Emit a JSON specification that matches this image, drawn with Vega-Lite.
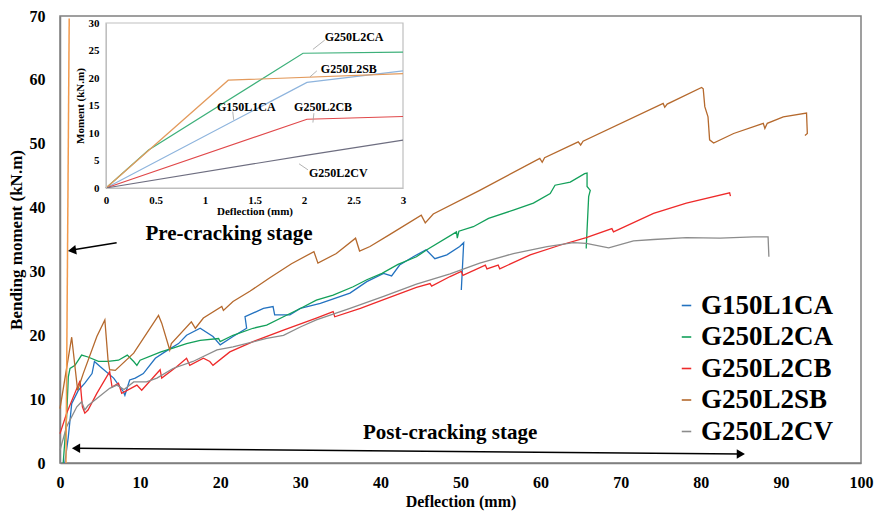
{
  "$schema": "https://vega.github.io/schema/vega-lite/v6.json",
  "width": 801,
  "height": 447,
  "autosize": {"type": "none"},
  "padding": {"left": 60, "top": 16, "right": 14, "bottom": 52},
  "background": "white",
  "config": {
    "font": "Liberation Serif",
    "view": {"stroke": "#808080", "strokeWidth": 1.5},
    "axis": {"grid": false, "labelColor": "#000000", "titleColor": "#000000", "labelFontWeight": "bold", "titleFontWeight": "bold", "labelFont": "Liberation Serif", "titleFont": "Liberation Serif"},
    "legend": {"labelFont": "Liberation Serif", "labelFontWeight": "bold", "labelColor": "#000000"}
  },
  "datasets": {
    "main": [
      {"s": "G150L1CA", "x": 0.6, "y": 0},
      {"s": "G150L1CA", "x": 1.04, "y": 4.1},
      {"s": "G150L1CA", "x": 1.46, "y": 9.3},
      {"s": "G150L1CA", "x": 2.3, "y": 11.4},
      {"s": "G150L1CA", "x": 3.1, "y": 12.5},
      {"s": "G150L1CA", "x": 4.0, "y": 14.0},
      {"s": "G150L1CA", "x": 4.3, "y": 15.9},
      {"s": "G150L1CA", "x": 5.0, "y": 15.1},
      {"s": "G150L1CA", "x": 6.7, "y": 13.3},
      {"s": "G150L1CA", "x": 7.9, "y": 11.2},
      {"s": "G150L1CA", "x": 8.1, "y": 10.6},
      {"s": "G150L1CA", "x": 8.7, "y": 13.0},
      {"s": "G150L1CA", "x": 9.4, "y": 13.3},
      {"s": "G150L1CA", "x": 10.4, "y": 14.0},
      {"s": "G150L1CA", "x": 11.9, "y": 16.4},
      {"s": "G150L1CA", "x": 13.1, "y": 17.4},
      {"s": "G150L1CA", "x": 14.8, "y": 18.7},
      {"s": "G150L1CA", "x": 15.8, "y": 20.0},
      {"s": "G150L1CA", "x": 17.5, "y": 21.1},
      {"s": "G150L1CA", "x": 19.1, "y": 19.8},
      {"s": "G150L1CA", "x": 20.0, "y": 18.5},
      {"s": "G150L1CA", "x": 21.6, "y": 19.8},
      {"s": "G150L1CA", "x": 23.3, "y": 21.1},
      {"s": "G150L1CA", "x": 23.1, "y": 22.9},
      {"s": "G150L1CA", "x": 25.4, "y": 24.2},
      {"s": "G150L1CA", "x": 26.6, "y": 24.5},
      {"s": "G150L1CA", "x": 26.8, "y": 23.2},
      {"s": "G150L1CA", "x": 28.7, "y": 23.2},
      {"s": "G150L1CA", "x": 30.0, "y": 24.2},
      {"s": "G150L1CA", "x": 32.5, "y": 25.0},
      {"s": "G150L1CA", "x": 36.2, "y": 26.6},
      {"s": "G150L1CA", "x": 38.3, "y": 28.4},
      {"s": "G150L1CA", "x": 40.4, "y": 29.7},
      {"s": "G150L1CA", "x": 41.4, "y": 29.3},
      {"s": "G150L1CA", "x": 42.4, "y": 31.0},
      {"s": "G150L1CA", "x": 44.1, "y": 32.3},
      {"s": "G150L1CA", "x": 45.7, "y": 33.4},
      {"s": "G150L1CA", "x": 46.8, "y": 32.0},
      {"s": "G150L1CA", "x": 48.3, "y": 32.6},
      {"s": "G150L1CA", "x": 49.9, "y": 33.9},
      {"s": "G150L1CA", "x": 50.4, "y": 34.5},
      {"s": "G150L1CA", "x": 50.1, "y": 27.1},
      {"s": "G250L2CA", "x": 0.4, "y": 0},
      {"s": "G250L2CA", "x": 0.83, "y": 7.3},
      {"s": "G250L2CA", "x": 1.04, "y": 13.5},
      {"s": "G250L2CA", "x": 1.25, "y": 14.8},
      {"s": "G250L2CA", "x": 1.87, "y": 15.3},
      {"s": "G250L2CA", "x": 2.7, "y": 16.9},
      {"s": "G250L2CA", "x": 3.5, "y": 16.6},
      {"s": "G250L2CA", "x": 4.8, "y": 15.9},
      {"s": "G250L2CA", "x": 6.0, "y": 15.9},
      {"s": "G250L2CA", "x": 7.3, "y": 16.1},
      {"s": "G250L2CA", "x": 8.4, "y": 16.9},
      {"s": "G250L2CA", "x": 9.2, "y": 15.9},
      {"s": "G250L2CA", "x": 9.6, "y": 15.3},
      {"s": "G250L2CA", "x": 10.0, "y": 16.1},
      {"s": "G250L2CA", "x": 12.6, "y": 17.4},
      {"s": "G250L2CA", "x": 14.1, "y": 18.0},
      {"s": "G250L2CA", "x": 15.8, "y": 18.7},
      {"s": "G250L2CA", "x": 17.5, "y": 19.2},
      {"s": "G250L2CA", "x": 19.8, "y": 19.5},
      {"s": "G250L2CA", "x": 20.0, "y": 19.0},
      {"s": "G250L2CA", "x": 21.6, "y": 20.0},
      {"s": "G250L2CA", "x": 24.1, "y": 21.1},
      {"s": "G250L2CA", "x": 25.8, "y": 21.6},
      {"s": "G250L2CA", "x": 27.9, "y": 22.9},
      {"s": "G250L2CA", "x": 30.0, "y": 24.2},
      {"s": "G250L2CA", "x": 32.0, "y": 25.5},
      {"s": "G250L2CA", "x": 34.1, "y": 26.3},
      {"s": "G250L2CA", "x": 36.6, "y": 27.6},
      {"s": "G250L2CA", "x": 38.3, "y": 28.7},
      {"s": "G250L2CA", "x": 40.2, "y": 29.7},
      {"s": "G250L2CA", "x": 42.2, "y": 31.1},
      {"s": "G250L2CA", "x": 44.5, "y": 32.3},
      {"s": "G250L2CA", "x": 45.8, "y": 33.4},
      {"s": "G250L2CA", "x": 49.5, "y": 36.2},
      {"s": "G250L2CA", "x": 49.6, "y": 35.2},
      {"s": "G250L2CA", "x": 49.8, "y": 36.3},
      {"s": "G250L2CA", "x": 51.6, "y": 37.0},
      {"s": "G250L2CA", "x": 53.5, "y": 38.3},
      {"s": "G250L2CA", "x": 56.6, "y": 39.6},
      {"s": "G250L2CA", "x": 59.1, "y": 40.7},
      {"s": "G250L2CA", "x": 61.2, "y": 42.2},
      {"s": "G250L2CA", "x": 61.8, "y": 43.5},
      {"s": "G250L2CA", "x": 63.7, "y": 44.0},
      {"s": "G250L2CA", "x": 65.5, "y": 45.3},
      {"s": "G250L2CA", "x": 65.8, "y": 45.4},
      {"s": "G250L2CA", "x": 65.8, "y": 43.3},
      {"s": "G250L2CA", "x": 66.2, "y": 42.7},
      {"s": "G250L2CA", "x": 66.0, "y": 41.7},
      {"s": "G250L2CA", "x": 65.7, "y": 33.9},
      {"s": "G250L2CA", "x": 65.7, "y": 33.6},
      {"s": "G250L2CB", "x": 0, "y": 4.6},
      {"s": "G250L2CB", "x": 0.83, "y": 7.8},
      {"s": "G250L2CB", "x": 2.5, "y": 12.9},
      {"s": "G250L2CB", "x": 2.8, "y": 8.8},
      {"s": "G250L2CB", "x": 3.1, "y": 7.8},
      {"s": "G250L2CB", "x": 3.5, "y": 8.3},
      {"s": "G250L2CB", "x": 4.6, "y": 10.9},
      {"s": "G250L2CB", "x": 6.2, "y": 14.3},
      {"s": "G250L2CB", "x": 6.5, "y": 11.9},
      {"s": "G250L2CB", "x": 7.3, "y": 12.5},
      {"s": "G250L2CB", "x": 7.7, "y": 10.9},
      {"s": "G250L2CB", "x": 9.6, "y": 12.2},
      {"s": "G250L2CB", "x": 10.2, "y": 11.4},
      {"s": "G250L2CB", "x": 12.5, "y": 14.6},
      {"s": "G250L2CB", "x": 12.7, "y": 13.3},
      {"s": "G250L2CB", "x": 14.6, "y": 15.1},
      {"s": "G250L2CB", "x": 15.8, "y": 16.4},
      {"s": "G250L2CB", "x": 16.2, "y": 15.3},
      {"s": "G250L2CB", "x": 17.9, "y": 16.4},
      {"s": "G250L2CB", "x": 18.7, "y": 15.9},
      {"s": "G250L2CB", "x": 19.1, "y": 15.3},
      {"s": "G250L2CB", "x": 21.2, "y": 17.4},
      {"s": "G250L2CB", "x": 24.1, "y": 19.0},
      {"s": "G250L2CB", "x": 27.9, "y": 20.8},
      {"s": "G250L2CB", "x": 32.0, "y": 22.7},
      {"s": "G250L2CB", "x": 34.1, "y": 23.7},
      {"s": "G250L2CB", "x": 34.3, "y": 22.9},
      {"s": "G250L2CB", "x": 37.5, "y": 24.2},
      {"s": "G250L2CB", "x": 40.4, "y": 25.6},
      {"s": "G250L2CB", "x": 44.5, "y": 27.5},
      {"s": "G250L2CB", "x": 46.2, "y": 28.1},
      {"s": "G250L2CB", "x": 46.4, "y": 27.7},
      {"s": "G250L2CB", "x": 48.7, "y": 29.2},
      {"s": "G250L2CB", "x": 50.1, "y": 30.0},
      {"s": "G250L2CB", "x": 50.3, "y": 29.4},
      {"s": "G250L2CB", "x": 53.1, "y": 31.0},
      {"s": "G250L2CB", "x": 53.3, "y": 30.4},
      {"s": "G250L2CB", "x": 54.7, "y": 31.0},
      {"s": "G250L2CB", "x": 54.9, "y": 30.4},
      {"s": "G250L2CB", "x": 58.7, "y": 32.6},
      {"s": "G250L2CB", "x": 62.4, "y": 34.1},
      {"s": "G250L2CB", "x": 65.7, "y": 35.3},
      {"s": "G250L2CB", "x": 68.9, "y": 36.7},
      {"s": "G250L2CB", "x": 69.1, "y": 36.2},
      {"s": "G250L2CB", "x": 74.1, "y": 39.1},
      {"s": "G250L2CB", "x": 78.2, "y": 40.7},
      {"s": "G250L2CB", "x": 83.6, "y": 42.3},
      {"s": "G250L2CB", "x": 83.7, "y": 41.8},
      {"s": "G250L2SB", "x": 0, "y": 8.5},
      {"s": "G250L2SB", "x": 1.46, "y": 19.7},
      {"s": "G250L2SB", "x": 2.2, "y": 11.4},
      {"s": "G250L2SB", "x": 2.9, "y": 14.0},
      {"s": "G250L2SB", "x": 4.6, "y": 19.8},
      {"s": "G250L2SB", "x": 5.6, "y": 22.4},
      {"s": "G250L2SB", "x": 6.0, "y": 16.1},
      {"s": "G250L2SB", "x": 6.2, "y": 14.6},
      {"s": "G250L2SB", "x": 6.9, "y": 14.5},
      {"s": "G250L2SB", "x": 9.2, "y": 17.2},
      {"s": "G250L2SB", "x": 12.3, "y": 23.1},
      {"s": "G250L2SB", "x": 12.7, "y": 21.9},
      {"s": "G250L2SB", "x": 13.7, "y": 17.7},
      {"s": "G250L2SB", "x": 13.9, "y": 18.7},
      {"s": "G250L2SB", "x": 16.4, "y": 22.1},
      {"s": "G250L2SB", "x": 16.9, "y": 21.1},
      {"s": "G250L2SB", "x": 17.9, "y": 22.7},
      {"s": "G250L2SB", "x": 20.2, "y": 24.5},
      {"s": "G250L2SB", "x": 20.4, "y": 23.9},
      {"s": "G250L2SB", "x": 21.6, "y": 25.3},
      {"s": "G250L2SB", "x": 23.7, "y": 26.9},
      {"s": "G250L2SB", "x": 26.2, "y": 29.0},
      {"s": "G250L2SB", "x": 28.9, "y": 31.2},
      {"s": "G250L2SB", "x": 31.7, "y": 33.1},
      {"s": "G250L2SB", "x": 32.2, "y": 31.3},
      {"s": "G250L2SB", "x": 34.5, "y": 32.8},
      {"s": "G250L2SB", "x": 36.9, "y": 35.2},
      {"s": "G250L2SB", "x": 37.4, "y": 33.2},
      {"s": "G250L2SB", "x": 38.7, "y": 33.9},
      {"s": "G250L2SB", "x": 41.2, "y": 35.8},
      {"s": "G250L2SB", "x": 45.1, "y": 38.8},
      {"s": "G250L2SB", "x": 45.6, "y": 37.6},
      {"s": "G250L2SB", "x": 46.6, "y": 39.0},
      {"s": "G250L2SB", "x": 52.4, "y": 42.7},
      {"s": "G250L2SB", "x": 59.9, "y": 47.7},
      {"s": "G250L2SB", "x": 60.2, "y": 47.1},
      {"s": "G250L2SB", "x": 60.5, "y": 47.8},
      {"s": "G250L2SB", "x": 64.7, "y": 50.3},
      {"s": "G250L2SB", "x": 65.0, "y": 49.8},
      {"s": "G250L2SB", "x": 65.3, "y": 50.4},
      {"s": "G250L2SB", "x": 75.3, "y": 56.3},
      {"s": "G250L2SB", "x": 75.5, "y": 55.7},
      {"s": "G250L2SB", "x": 75.8, "y": 56.2},
      {"s": "G250L2SB", "x": 80.1, "y": 58.8},
      {"s": "G250L2SB", "x": 80.3, "y": 58.6},
      {"s": "G250L2SB", "x": 80.5, "y": 55.8},
      {"s": "G250L2SB", "x": 80.9, "y": 54.2},
      {"s": "G250L2SB", "x": 81.1, "y": 50.6},
      {"s": "G250L2SB", "x": 81.6, "y": 50.1},
      {"s": "G250L2SB", "x": 84.1, "y": 51.6},
      {"s": "G250L2SB", "x": 87.8, "y": 53.2},
      {"s": "G250L2SB", "x": 88.0, "y": 52.4},
      {"s": "G250L2SB", "x": 88.3, "y": 53.2},
      {"s": "G250L2SB", "x": 90.3, "y": 54.2},
      {"s": "G250L2SB", "x": 93.2, "y": 54.8},
      {"s": "G250L2SB", "x": 93.3, "y": 51.6},
      {"s": "G250L2SB", "x": 93.0, "y": 51.3},
      {"s": "G250L2CV", "x": 0, "y": 2.0},
      {"s": "G250L2CV", "x": 0.83, "y": 5.7},
      {"s": "G250L2CV", "x": 2.1, "y": 8.8},
      {"s": "G250L2CV", "x": 2.7, "y": 9.6},
      {"s": "G250L2CV", "x": 3.1, "y": 8.3},
      {"s": "G250L2CV", "x": 3.5, "y": 9.0},
      {"s": "G250L2CV", "x": 4.6, "y": 10.1},
      {"s": "G250L2CV", "x": 6.2, "y": 11.7},
      {"s": "G250L2CV", "x": 7.1, "y": 12.2},
      {"s": "G250L2CV", "x": 8.0, "y": 11.5},
      {"s": "G250L2CV", "x": 9.2, "y": 12.7},
      {"s": "G250L2CV", "x": 10.8, "y": 12.7},
      {"s": "G250L2CV", "x": 12.1, "y": 13.3},
      {"s": "G250L2CV", "x": 14.1, "y": 14.8},
      {"s": "G250L2CV", "x": 16.6, "y": 15.9},
      {"s": "G250L2CV", "x": 19.6, "y": 17.7},
      {"s": "G250L2CV", "x": 21.6, "y": 18.2},
      {"s": "G250L2CV", "x": 25.8, "y": 19.5},
      {"s": "G250L2CV", "x": 27.9, "y": 20.0},
      {"s": "G250L2CV", "x": 30.0, "y": 21.3},
      {"s": "G250L2CV", "x": 32.0, "y": 22.4},
      {"s": "G250L2CV", "x": 36.2, "y": 24.2},
      {"s": "G250L2CV", "x": 40.4, "y": 26.1},
      {"s": "G250L2CV", "x": 44.5, "y": 28.0},
      {"s": "G250L2CV", "x": 48.7, "y": 29.6},
      {"s": "G250L2CV", "x": 52.4, "y": 31.3},
      {"s": "G250L2CV", "x": 56.6, "y": 32.8},
      {"s": "G250L2CV", "x": 60.8, "y": 33.9},
      {"s": "G250L2CV", "x": 64.1, "y": 34.5},
      {"s": "G250L2CV", "x": 65.7, "y": 34.4},
      {"s": "G250L2CV", "x": 68.5, "y": 33.7},
      {"s": "G250L2CV", "x": 71.6, "y": 34.8},
      {"s": "G250L2CV", "x": 74.1, "y": 35.0},
      {"s": "G250L2CV", "x": 78.2, "y": 35.3},
      {"s": "G250L2CV", "x": 82.4, "y": 35.2},
      {"s": "G250L2CV", "x": 86.6, "y": 35.4},
      {"s": "G250L2CV", "x": 88.4, "y": 35.4},
      {"s": "G250L2CV", "x": 88.5, "y": 32.3}
    ],
    "pre": [
      {"x": 0.75, "y": 0},
      {"x": 1.15, "y": 69.6}
    ],
    "arrows": [
      {"x": 7.07, "y": 34.5, "x2": 1.3, "y2": 33.3},
      {"x": 2.0, "y": 2.3, "x2": 85.0, "y2": 1.4}
    ],
    "heads": [
      {"x": 1.5, "y": 33.3, "dir": "left", "a": -9},
      {"x": 2.0, "y": 2.3, "dir": "left", "a": 0},
      {"x": 85.0, "y": 1.4, "dir": "right", "a": 0}
    ],
    "notes": [
      {"x": 21.1, "y": 35.8, "t": "Pre-cracking stage"},
      {"x": 48.7, "y": 4.7, "t": "Post-cracking stage"}
    ],
    "inset": [
      {"s": "G150L1CA", "x": 0, "y": 0},
      {"s": "G150L1CA", "x": 2.03, "y": 19.2},
      {"s": "G150L1CA", "x": 3, "y": 21.3},
      {"s": "G250L2CA", "x": 0, "y": 0},
      {"s": "G250L2CA", "x": 0.43, "y": 6.9},
      {"s": "G250L2CA", "x": 1.99, "y": 24.5},
      {"s": "G250L2CA", "x": 3, "y": 24.7},
      {"s": "G250L2CB", "x": 0, "y": 0},
      {"s": "G250L2CB", "x": 2.03, "y": 12.5},
      {"s": "G250L2CB", "x": 3, "y": 13.0},
      {"s": "G250L2SB", "x": 0, "y": 0},
      {"s": "G250L2SB", "x": 1.235, "y": 19.6},
      {"s": "G250L2SB", "x": 3, "y": 20.8},
      {"s": "G250L2CV", "x": 0, "y": 0},
      {"s": "G250L2CV", "x": 2, "y": 5.9},
      {"s": "G250L2CV", "x": 3, "y": 8.7}
    ],
    "insetLabels": [
      {"t": "G250L2CA", "x": 2.21, "y": 27.5, "lx": 2.09, "ly": 25.2, "lx2": 2.21, "ly2": 26.9},
      {"t": "G250L2SB", "x": 2.17, "y": 21.6, "lx": 2.06, "ly": 20.2, "lx2": 2.13, "ly2": 21.3},
      {"t": "G150L1CA", "x": 1.12, "y": 14.8, "lx": 1.29, "ly": 12.4, "lx2": 1.28, "ly2": 13.9},
      {"t": "G250L2CB", "x": 1.9, "y": 14.8, "lx": 2.09, "ly": 11.9, "lx2": 2.1, "ly2": 13.6},
      {"t": "G250L2CV", "x": 2.05, "y": 2.7, "lx": 1.95, "ly": 4.4, "lx2": 2.04, "ly2": 3.3}
    ],
    "frame": [
      {"x": 0, "x2": 3, "y": 0, "y2": 30}
    ]
  },
  "layer": [
    {
      "layer": [
        {
          "data": {"name": "main"},
          "mark": {"type": "line", "strokeWidth": 1.3},
          "encoding": {
            "x": {"field": "x", "type": "quantitative", "scale": {"domain": [0, 100], "nice": false},
              "axis": {"values": [0, 10, 20, 30, 40, 50, 60, 70, 80, 90, 100], "ticks": false, "labelPadding": 11, "labelFontSize": 16, "labelFlush": false, "labelOverlap": false, "domainColor": "#808080", "domainWidth": 1.5, "title": "Deflection (mm)", "titleFontSize": 16, "titlePadding": 3}},
            "y": {"field": "y", "type": "quantitative", "scale": {"domain": [0, 70], "nice": false},
              "axis": {"values": [0, 10, 20, 30, 40, 50, 60, 70], "ticks": false, "labelPadding": 15, "labelFontSize": 16, "labelOverlap": false, "domainColor": "#808080", "domainWidth": 1.5, "title": "Bending moment (kN.m)", "titleFontSize": 17, "titlePadding": 4}},
            "color": {"field": "s", "type": "nominal",
              "scale": {"domain": ["G150L1CA", "G250L2CA", "G250L2CB", "G250L2SB", "G250L2CV"], "range": ["#2372C0", "#13A05A", "#EE2A2A", "#B5692D", "#8C8C8C"]},
              "legend": {"orient": "none", "legendX": 613, "legendY": 276, "title": null, "labelFontSize": 27, "labelFont": "Liberation Serif", "labelFontWeight": "bold", "labelColor": "#000000", "symbolType": "stroke", "symbolSize": 90, "symbolStrokeWidth": 1.6, "labelOffset": 1, "rowPadding": 3.5, "padding": 0}},
            "order": {"value": null}
          }
        },
        {
          "data": {"name": "pre"},
          "mark": {"type": "line", "strokeWidth": 1.5, "color": "#F39A4C"},
          "encoding": {
            "x": {"field": "x", "type": "quantitative"},
            "y": {"field": "y", "type": "quantitative"},
            "order": {"value": null}
          }
        },
        {
          "data": {"name": "arrows"},
          "mark": {"type": "rule", "color": "#000000", "strokeWidth": 1.5},
          "encoding": {
            "x": {"field": "x", "type": "quantitative"},
            "y": {"field": "y", "type": "quantitative"},
            "x2": {"field": "x2"},
            "y2": {"field": "y2"}
          }
        },
        {
          "data": {"name": "heads"},
          "mark": {"type": "point", "filled": true, "color": "#000000", "opacity": 1, "size": 90},
          "encoding": {
            "x": {"field": "x", "type": "quantitative"},
            "y": {"field": "y", "type": "quantitative"},
            "shape": {"field": "dir", "type": "nominal", "scale": {"domain": ["left", "right"], "range": ["triangle-left", "triangle-right"]}, "legend": null},
            "angle": {"field": "a", "type": "quantitative", "scale": null}
          }
        },
        {
          "data": {"name": "notes"},
          "mark": {"type": "text", "fontSize": 21, "fontWeight": "bold", "font": "Liberation Serif", "color": "#000000", "align": "center", "baseline": "middle"},
          "encoding": {
            "x": {"field": "x", "type": "quantitative"},
            "y": {"field": "y", "type": "quantitative"},
            "text": {"field": "t"}
          }
        }
      ]
    },
    {
      "layer": [
        {
          "data": {"name": "frame"},
          "mark": {"type": "rect", "fill": "white", "stroke": "#BFBFBF", "strokeWidth": 1.2},
          "encoding": {
            "x": {"field": "x", "type": "quantitative", "scale": {"domain": [0, 3], "nice": false, "range": [46, 343]},
              "axis": {"orient": "bottom", "offset": -275, "values": [0, 0.5, 1, 1.5, 2, 2.5, 3], "format": "~g", "ticks": false, "labelPadding": 6, "labelFontSize": 11, "labelFlush": false, "labelOverlap": false, "domainColor": "#BFBFBF", "title": "Deflection (mm)", "titleFontSize": 11, "titlePadding": 0, "zindex": 1}},
            "x2": {"field": "x2"},
            "y": {"field": "y", "type": "quantitative", "scale": {"domain": [0, 30], "nice": false, "range": [172, 7]},
              "axis": {"orient": "left", "offset": -46, "values": [0, 5, 10, 15, 20, 25, 30], "ticks": false, "labelPadding": 7, "labelFontSize": 11, "labelOverlap": false, "domainColor": "#BFBFBF", "title": "Moment (kN.m)", "titleFontSize": 11, "titlePadding": 3, "zindex": 1}},
            "y2": {"field": "y2"}
          }
        },
        {
          "data": {"name": "inset"},
          "mark": {"type": "line", "strokeWidth": 1.2},
          "encoding": {
            "x": {"field": "x", "type": "quantitative"},
            "y": {"field": "y", "type": "quantitative"},
            "color": {"field": "s", "type": "nominal",
              "scale": {"domain": ["G150L1CA", "G250L2CA", "G250L2CB", "G250L2SB", "G250L2CV"], "range": ["#8EB4DD", "#3DB07A", "#E0484A", "#E39A5C", "#6E6E80"]},
              "legend": null},
            "order": {"value": null}
          }
        },
        {
          "data": {"name": "insetLabels"},
          "mark": {"type": "rule", "color": "#A0A0A0", "strokeWidth": 0.8},
          "encoding": {
            "x": {"field": "lx", "type": "quantitative"},
            "y": {"field": "ly", "type": "quantitative"},
            "x2": {"field": "lx2"},
            "y2": {"field": "ly2"}
          }
        },
        {
          "data": {"name": "insetLabels"},
          "mark": {"type": "text", "fontSize": 12, "fontWeight": "bold", "font": "Liberation Serif", "color": "#000000", "align": "left", "baseline": "middle"},
          "encoding": {
            "x": {"field": "x", "type": "quantitative"},
            "y": {"field": "y", "type": "quantitative"},
            "text": {"field": "t"}
          }
        }
      ]
    }
  ],
  "resolve": {
    "scale": {"x": "independent", "y": "independent", "color": "independent"},
    "axis": {"x": "independent", "y": "independent"}
  }
}
